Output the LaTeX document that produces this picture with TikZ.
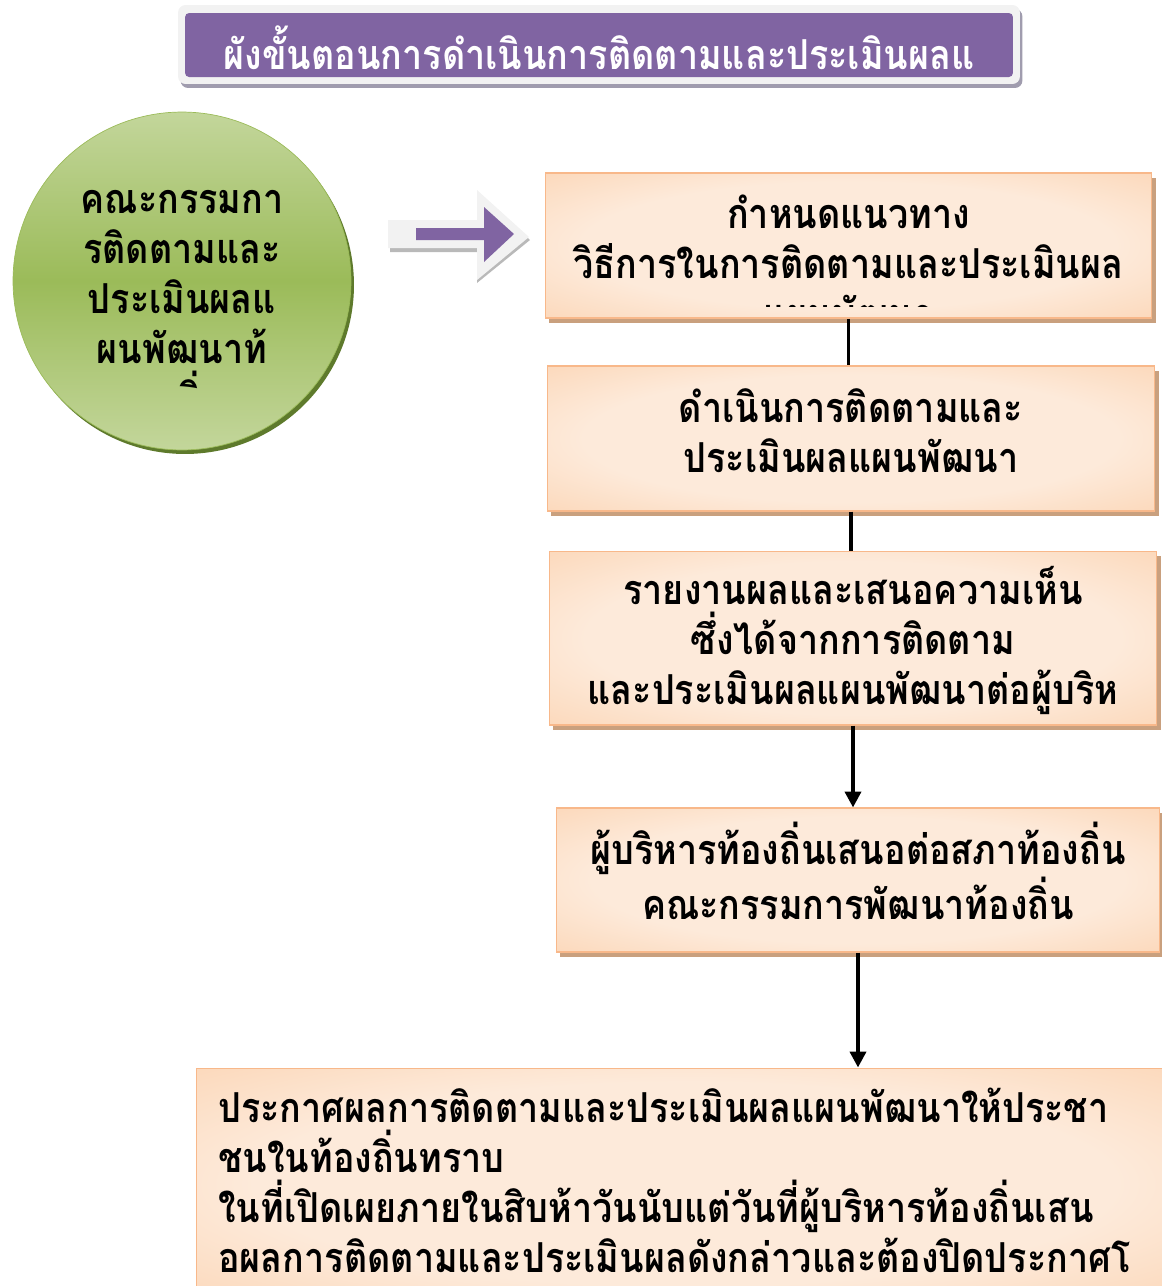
\documentclass[tikz,border=0pt]{standalone}
\usepackage{fontspec}
\newfontfamily\thaifont[Script=Thai, FakeStretch=0.87]{Loma}
\usetikzlibrary{arrows.meta,shadows}

\definecolor{boxdark}{HTML}{FAC090}
\definecolor{boxlight}{HTML}{FDEADA}
\definecolor{boxedge}{HTML}{F8B88A}
\definecolor{boxshadow}{HTML}{C9A07E}
\definecolor{greentop}{HTML}{C3D69B}
\definecolor{greenmid}{HTML}{9BBB59}
\definecolor{greenshadow}{HTML}{5E7A2C}
\definecolor{purplebar}{HTML}{8064A2}
\definecolor{framegray}{HTML}{F2F2F2}
\definecolor{frameshadow}{HTML}{A09CAE}

\pgfdeclareradialshading{boxshade}{\pgfpoint{0bp}{0bp}}{color(0bp)=(boxlight); color(22bp)=(boxlight); color(55bp)=(boxdark); color(71bp)=(boxdark)}

\tikzset{
  thai/.style={font=\thaifont\bfseries\fontsize{23.5}{28.45}\selectfont},
  stepbox/.style={draw=boxedge, line width=0.6pt, shading=boxshade,
    drop shadow={shadow xshift=0.08cm, shadow yshift=-0.1cm, fill=boxshadow, opacity=1},
    inner sep=0pt},
  link/.style={line width=2.2pt},
  linkarrow/.style={link, -{Triangle[length=9pt,width=9pt]}}
}

\begin{document}
\begin{tikzpicture}[x=0.02cm,y=-0.02cm]
\useasboundingbox (0,0) rectangle (1161,1286);

% Title
\node[fill=framegray, rounded corners=0.15cm, minimum width=16.84cm, minimum height=1.58cm,
  drop shadow={shadow xshift=0.05cm, shadow yshift=-0.08cm, fill=frameshadow, opacity=1}] (titleframe) at (599,44.5) {};
\node[fill=purplebar, rounded corners=0.08cm, minimum width=16.56cm, minimum height=1.28cm] (titlebar) at (599,45) {};
\node[thai, text=white] (title) at (599,48) {ผังขั้นตอนการดำเนินการติดตามและประเมินผลแ};

% Committee
\node[circle, minimum size=6.76cm, draw=greenmid, top color=greentop, bottom color=greentop, middle color=greenmid,
  drop shadow={shadow xshift=0.06cm, shadow yshift=-0.08cm, fill=greenshadow, opacity=1}] (committee) at (182,281) {};
\begin{scope}
\clip (10,110) rectangle (360,388);
\node[thai, align=center] (committeetext) at (182,302) {คณะกรรมกา\\รติดตามและ\\ประเมินผลแ\\ผนพัฒนาท้\\องถิ่น};
\end{scope}

% Block arrow
\fill[gray!55] (390,223) -- (477,223) -- (477,193) -- (530,240) -- (477,283) -- (477,252) -- (390,252) -- cycle;
\fill[framegray] (388,220) -- (477,220) -- (477,190) -- (529,237) -- (477,280) -- (477,248) -- (388,248) -- cycle;
\fill[purplebar] (416,228) -- (484,228) -- (484,207) -- (514,234) -- (484,262) -- (484,240) -- (416,240) -- cycle;

% Steps
\node[stepbox, minimum width=12.14cm, minimum height=2.9cm] (step1) at (848.5,245.5) {};
\begin{scope}
\clip (545,173) rectangle (1152,306);
\node[thai, align=center] (step1text) at (848.5,262) {กำหนดแนวทาง\\วิธีการในการติดตามและประเมินผล\\แผนพัฒนา};
\end{scope}

\node[stepbox, minimum width=12.16cm, minimum height=2.9cm] (step2) at (851,438.5) {};
\node[thai, align=center] (step2text) at (851,431) {ดำเนินการติดตามและ\\ประเมินผลแผนพัฒนา};

\node[stepbox, minimum width=12.16cm, minimum height=3.48cm] (step3) at (853,638) {};
\node[thai, align=center] (step3text) at (853,640) {รายงานผลและเสนอความเห็น\\ซึ่งได้จากการติดตาม\\และประเมินผลแผนพัฒนาต่อผู้บริห};

\node[stepbox, minimum width=12.08cm, minimum height=2.88cm] (step4) at (858,880) {};
\node[thai, align=center] (step4text) at (858,871) {ผู้บริหารท้องถิ่นเสนอต่อสภาท้องถิ่น\\คณะกรรมการพัฒนาท้องถิ่น};

\node[stepbox, minimum width=19.58cm, minimum height=4.64cm] (step5) at (685.5,1184) {};
\node[thai, align=left, anchor=west, inner xsep=0pt] (step5text) at (218,1180) {ประกาศผลการติดตามและประเมินผลแผนพัฒนาให้ประชา\\ชนในท้องถิ่นทราบ\\ในที่เปิดเผยภายในสิบห้าวันนับแต่วันที่ผู้บริหารท้องถิ่นเสน\\อผลการติดตามและประเมินผลดังกล่าวและต้องปิดประกาศโ};

% Links
\draw[link] (step1.south) -- (step1.south |- step2.north);
\draw[link] (step2.south) -- (step2.south |- step3.north);
\draw[linkarrow] (step3.south) -- (step3.south |- step4.north);
\draw[linkarrow] (step4.south) -- (step4.south |- step5.north);
\end{tikzpicture}
\end{document}
